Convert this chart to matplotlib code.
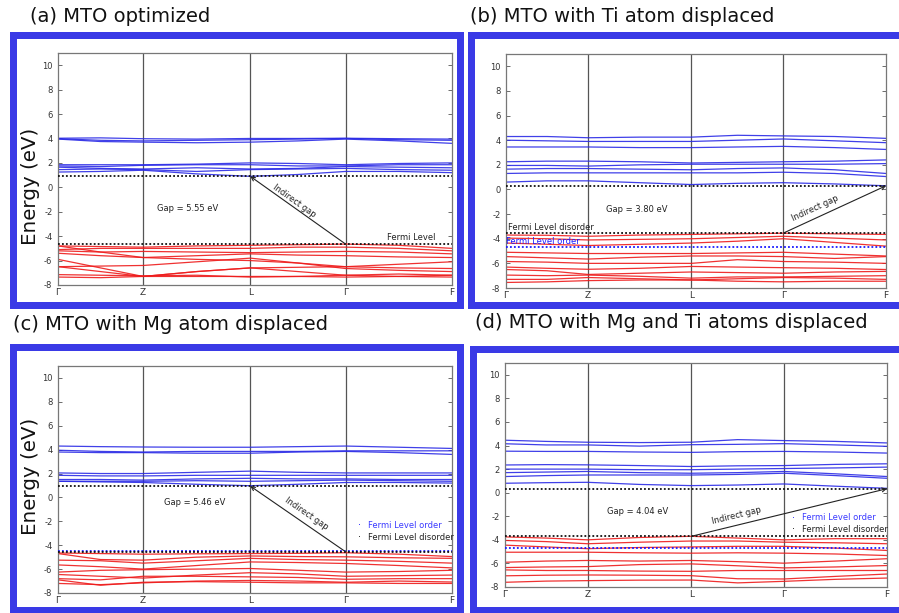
import numpy as np
import matplotlib
matplotlib.use("Agg")
import matplotlib.pyplot as plt
from matplotlib.patches import Rectangle

plt.rcParams["axes.unicode_minus"] = False

W, H = 899, 613

# ---------------- data ----------------
kpath_labels = ["Γ", "Z", "L", "Γ", "F"]
kpath_pos = [0.0, 0.216, 0.488, 0.730, 1.0]
k_nodes = [0.0, 0.108, 0.216, 0.352, 0.488, 0.609, 0.730, 0.865, 1.0]

# (a) MTO optimized
a_cond = [
    [4.02, 4.05, 3.98, 3.95, 4.00, 4.00, 4.02, 3.98, 3.95],
    [3.98, 3.85, 3.80, 3.85, 3.90, 3.95, 4.00, 3.90, 3.85],
    [3.95, 3.75, 3.70, 3.65, 3.70, 3.80, 3.95, 3.80, 3.60],
    [1.85, 1.85, 1.85, 1.90, 2.00, 1.95, 1.85, 1.95, 2.00],
    [1.75, 1.70, 1.80, 1.85, 1.85, 1.75, 1.75, 1.85, 1.85],
    [1.65, 1.55, 1.50, 1.60, 1.50, 1.55, 1.70, 1.65, 1.60],
    [1.45, 1.50, 1.45, 1.30, 1.45, 1.50, 1.55, 1.45, 1.40],
    [1.25, 1.30, 1.40, 1.10, 0.90, 1.05, 1.30, 1.30, 1.20],
]
a_val = [
    [-4.80, -4.85, -4.90, -4.80, -4.75, -4.70, -4.65, -4.75, -5.00],
    [-5.10, -5.00, -5.00, -5.00, -5.00, -4.90, -4.90, -5.00, -5.20],
    [-5.20, -5.30, -5.25, -5.30, -5.35, -5.30, -5.25, -5.30, -5.45],
    [-5.40, -5.60, -5.75, -5.60, -5.45, -5.55, -5.60, -5.70, -5.75],
    [-4.80, -5.30, -5.75, -5.90, -6.00, -6.20, -6.50, -6.30, -6.10],
    [-5.90, -6.60, -7.30, -6.90, -6.60, -6.55, -6.50, -6.60, -6.65],
    [-6.50, -6.45, -6.40, -6.10, -5.80, -6.20, -6.65, -6.80, -6.90],
    [-6.50, -6.90, -7.30, -6.90, -6.60, -6.90, -7.20, -7.10, -7.20],
    [-7.15, -7.20, -7.25, -7.20, -7.35, -7.30, -7.35, -7.30, -7.20],
    [-7.35, -7.40, -7.30, -7.30, -7.30, -7.30, -7.20, -7.30, -7.35],
]
# (b) Ti displaced
b_cond = [
    [4.30, 4.30, 4.20, 4.25, 4.25, 4.40, 4.35, 4.30, 4.15],
    [4.00, 3.95, 3.90, 3.90, 3.90, 4.00, 4.10, 3.95, 3.80],
    [3.45, 3.45, 3.45, 3.40, 3.40, 3.45, 3.50, 3.40, 3.25],
    [2.25, 2.30, 2.30, 2.25, 2.15, 2.20, 2.25, 2.30, 2.40],
    [1.95, 1.95, 1.90, 2.00, 2.05, 2.05, 2.05, 2.05, 2.10],
    [1.65, 1.70, 1.70, 1.65, 1.60, 1.70, 1.75, 1.60, 1.30],
    [1.30, 1.35, 1.35, 1.35, 1.35, 1.35, 1.40, 1.30, 1.05],
    [0.60, 0.70, 0.70, 0.55, 0.40, 0.50, 0.55, 0.45, 0.30],
]
b_val = [
    [-3.70, -3.72, -3.80, -3.70, -3.65, -3.60, -3.55, -3.60, -3.65],
    [-3.95, -4.00, -4.10, -4.05, -4.00, -3.90, -3.80, -3.95, -4.10],
    [-4.35, -4.45, -4.55, -4.45, -4.35, -4.20, -4.00, -4.30, -4.60],
    [-5.10, -5.15, -5.20, -5.20, -5.20, -5.15, -5.10, -5.25, -5.40],
    [-5.45, -5.55, -5.65, -5.50, -5.40, -5.40, -5.45, -5.60, -5.45],
    [-5.85, -5.90, -6.00, -6.00, -6.00, -5.70, -5.85, -5.90, -6.00],
    [-6.30, -6.40, -6.48, -6.40, -6.25, -6.30, -6.35, -6.40, -6.50],
    [-6.50, -6.60, -6.90, -6.80, -6.70, -6.75, -6.80, -6.70, -6.65],
    [-6.95, -7.00, -6.95, -7.05, -7.20, -7.10, -7.10, -7.05, -7.00],
    [-7.30, -7.30, -7.15, -7.25, -7.35, -7.25, -7.15, -7.20, -7.30],
    [-7.55, -7.50, -7.40, -7.35, -7.35, -7.45, -7.50, -7.45, -7.45],
]
# (c) Mg displaced
c_cond = [
    [4.30, 4.25, 4.22, 4.20, 4.20, 4.25, 4.30, 4.20, 4.10],
    [3.95, 3.85, 3.80, 3.85, 3.85, 3.85, 3.90, 3.90, 3.90],
    [3.80, 3.75, 3.75, 3.70, 3.70, 3.80, 3.85, 3.75, 3.60],
    [2.05, 2.00, 2.00, 2.10, 2.20, 2.10, 2.05, 2.05, 2.05],
    [1.85, 1.80, 1.80, 1.85, 1.85, 1.85, 1.85, 1.85, 1.85],
    [1.50, 1.50, 1.45, 1.55, 1.60, 1.55, 1.55, 1.50, 1.50],
    [1.35, 1.35, 1.35, 1.40, 1.35, 1.40, 1.45, 1.40, 1.35],
    [1.35, 1.30, 1.25, 1.10, 0.98, 1.10, 1.25, 1.25, 1.20],
]
c_val = [
    [-4.65, -4.70, -4.75, -4.72, -4.70, -4.68, -4.63, -4.75, -4.95],
    [-4.70, -5.20, -5.25, -5.00, -4.90, -4.95, -4.97, -5.05, -5.10],
    [-5.25, -5.30, -5.50, -5.30, -5.10, -5.20, -5.25, -5.35, -5.50],
    [-5.65, -5.80, -6.00, -5.70, -5.40, -5.45, -5.53, -5.70, -5.90],
    [-6.25, -6.10, -6.05, -6.00, -5.95, -6.10, -6.25, -6.20, -6.10],
    [-6.45, -6.60, -6.75, -6.50, -6.30, -6.40, -6.60, -6.55, -6.50],
    [-6.80, -6.90, -6.60, -6.60, -6.65, -6.70, -6.85, -6.80, -6.80],
    [-7.20, -7.30, -7.15, -7.00, -6.95, -7.00, -7.10, -7.00, -7.08],
    [-6.90, -7.35, -7.10, -7.05, -7.10, -7.15, -7.15, -7.20, -7.20],
]
# (d) Mg and Ti displaced
d_cond = [
    [4.45, 4.35, 4.28, 4.25, 4.28, 4.50, 4.42, 4.35, 4.22],
    [4.15, 4.05, 4.05, 3.95, 4.07, 4.10, 4.16, 4.05, 3.93],
    [3.52, 3.50, 3.50, 3.45, 3.42, 3.48, 3.50, 3.45, 3.36],
    [2.35, 2.38, 2.36, 2.30, 2.22, 2.28, 2.30, 2.40, 2.45],
    [2.00, 2.00, 2.00, 1.95, 1.95, 2.00, 2.05, 2.10, 2.17],
    [1.70, 1.75, 1.80, 1.70, 1.65, 1.70, 1.80, 1.60, 1.37],
    [1.37, 1.45, 1.50, 1.50, 1.50, 1.55, 1.65, 1.45, 1.22],
    [0.80, 0.85, 0.88, 0.70, 0.60, 0.65, 0.74, 0.55, 0.37],
]
d_val = [
    [-3.75, -3.85, -4.00, -3.80, -3.70, -3.85, -4.00, -3.90, -3.90],
    [-4.05, -4.15, -4.33, -4.20, -4.10, -4.10, -4.20, -4.25, -4.33],
    [-4.45, -4.60, -4.75, -4.65, -4.60, -4.55, -4.55, -4.70, -4.90],
    [-5.05, -5.05, -5.05, -5.10, -5.13, -5.10, -5.13, -5.20, -5.33],
    [-5.90, -5.80, -5.75, -5.80, -5.75, -5.85, -5.98, -5.80, -5.60],
    [-6.35, -6.30, -6.27, -6.10, -6.04, -6.20, -6.38, -6.30, -6.18],
    [-6.55, -6.60, -6.60, -6.65, -6.67, -6.60, -6.60, -6.60, -6.60],
    [-7.05, -7.00, -6.98, -7.00, -7.04, -7.30, -7.32, -7.10, -6.90],
    [-7.60, -7.50, -7.46, -7.42, -7.41, -7.65, -7.52, -7.35, -7.24],
]

titles = ["(a) MTO optimized", "(b) MTO with Ti atom displaced",
          "(c) MTO with Mg atom displaced", "(d) MTO with Mg and Ti atoms displaced"]
gap_texts = ["Gap = 5.55 eV", "Gap = 3.80 eV", "Gap = 5.46 eV", "Gap = 4.04 eV"]
cbm_levels = [0.90, 0.30, 0.95, 0.34]
fermi_disorder = [-4.65, -3.54, -4.57, -3.70]
fermi_order = [None, -4.68, -4.52, -4.67]
# indirect gap arrow: (k start, E start) -> (k end, E end)
arrow_from = [(0.730, -4.65), (0.730, -3.54), (0.730, -4.55), (0.488, -3.70)]
arrow_to = [(0.488, 0.90), (1.0, 0.30), (0.488, 0.95), (1.0, 0.34)]

# ---------------- layout (pixels) ----------------
BLUE = "#3a3ae6"
COND = "#2b2be6"
VAL = "#ee1c1c"

fig = plt.figure(figsize=(W / 100, H / 100), dpi=100)


def fig_box(l, t, r, b):
    return [l / W, 1 - b / H, (r - l) / W, (b - t) / H]


def frame(l, t, r, b, lw_px=7):
    c = lw_px / 2
    rect = Rectangle(((l + c) / W, 1 - (b - c) / H), (r - l - 2 * c) / W, (b - t - 2 * c) / H,
                     transform=fig.transFigure, facecolor="white", edgecolor=BLUE,
                     linewidth=lw_px * 0.72, zorder=-1)
    fig.add_artist(rect)


frames = [(9, 32, 463, 308), (468, 32, 910, 308), (9, 343, 463, 613), (469, 345, 910, 613)]
axes_px = [(58, 53, 452, 285), (506, 54, 886, 288), (58, 366, 452, 593), (505, 363, 887, 587)]
title_px = [(30, 22), (470, 22), (13, 330), (475, 328)]
ylabel_px = [(30, 186), None, (30, 476), None]

gap_pos = [(0.33, -1.7), (0.345, -1.6), (0.348, -0.4), (0.348, -1.63)]
arrow_t = [0.57, 0.35, 0.47, 0.244]
arrow_perp = [5, 9, 9, 9]

cond_all = [a_cond, b_cond, c_cond, d_cond]
val_all = [a_val, b_val, c_val, d_val]

for f in frames:
    frame(*f)

dots = (0, (1.0, 1.2))

for i in range(4):
    ax = fig.add_axes(fig_box(*axes_px[i]))
    ax.set_xlim(0, 1)
    ax.set_ylim(-8, 11)
    for s in ax.spines.values():
        s.set_color("#777777")
        s.set_linewidth(0.9)
    ax.set_yticks(range(-8, 11, 2))
    ax.set_xticks(kpath_pos)
    ax.set_xticklabels(kpath_labels)
    ax.tick_params(axis="y", direction="in", length=3, width=0.6, color="#555555",
                   labelsize=6, labelcolor="#333333", right=True, pad=4)
    ax.tick_params(axis="x", length=0, labelsize=6.5, labelcolor="#333333", pad=2.5)
    for kp in kpath_pos[1:-1]:
        ax.axvline(kp, color="#555555", lw=0.9, zorder=1)

    for band in cond_all[i]:
        ax.plot(k_nodes, band, color=COND, lw=0.9, alpha=0.9, zorder=2)
    for band in val_all[i]:
        ax.plot(k_nodes, band, color=VAL, lw=0.9, alpha=0.9, zorder=2)

    ax.axhline(cbm_levels[i], color="#111111", lw=1.3, ls=dots, zorder=3)
    if fermi_order[i] is not None:
        ax.axhline(fermi_order[i], color="#1a1aff", lw=1.3, ls=dots, zorder=3)
    ax.axhline(fermi_disorder[i], color="#111111", lw=1.3, ls=dots, zorder=3)

    ax.text(*gap_pos[i], gap_texts[i], fontsize=6, color="#222222", ha="center", va="center")

    # arrow and label
    st, en = arrow_from[i], arrow_to[i]
    ax.annotate("", xy=en, xytext=st,
                arrowprops=dict(arrowstyle="->", color="#222222", lw=0.8,
                                shrinkA=0, shrinkB=0, mutation_scale=7), zorder=4)
    p0 = ax.transData.transform(st)
    p1 = ax.transData.transform(en)
    d = p1 - p0
    ang = np.degrees(np.arctan2(d[1], d[0]))
    if ang > 90:
        ang -= 180
    if ang < -90:
        ang += 180
    nrm = np.array([-d[1], d[0]]) / np.hypot(*d)
    if nrm[1] < 0:
        nrm = -nrm
    pos = p0 + arrow_t[i] * d + nrm * arrow_perp[i]
    tx, ty = ax.transData.inverted().transform(pos)
    ax.text(tx, ty, "Indirect gap", fontsize=6, color="#222222", rotation=ang,
            rotation_mode="anchor", ha="center", va="center")

    if i == 0:
        ax.text(0.896, -4.13, "Fermi Level", fontsize=6, color="#222222", ha="center", va="center")
    elif i == 1:
        ax.text(0.005, -3.11, "Fermi Level disorder", fontsize=6, color="#222222", ha="left", va="center")
        ax.text(0.0, -4.25, "Fermi Level order", fontsize=6, color="#1a1aff", ha="left", va="center")
    else:
        lx, ly1, ly2 = (0.787, -2.35, -3.36) if i == 2 else (0.777, -2.14, -3.10)
        ax.text(lx - 0.022, ly1, "·", fontsize=7, color="#1a1aff", ha="center", va="center")
        ax.text(lx, ly1, "Fermi Level order", fontsize=6, color="#3a3aff", ha="left", va="center")
        ax.text(lx - 0.022, ly2, "·", fontsize=7, color="#111111", ha="center", va="center")
        ax.text(lx, ly2, "Fermi Level disorder", fontsize=6, color="#222222", ha="left", va="center")

    tx_px, ty_px = title_px[i]
    fig.text(tx_px / W, 1 - ty_px / H, titles[i], fontsize=14, color="#111111",
             ha="left", va="baseline")
    if ylabel_px[i] is not None:
        yx, yy = ylabel_px[i]
        fig.text(yx / W, 1 - yy / H, "Energy (eV)", fontsize=14.3, color="#111111",
                 rotation=90, ha="center", va="center")

fig.savefig("out.png", dpi=100)
